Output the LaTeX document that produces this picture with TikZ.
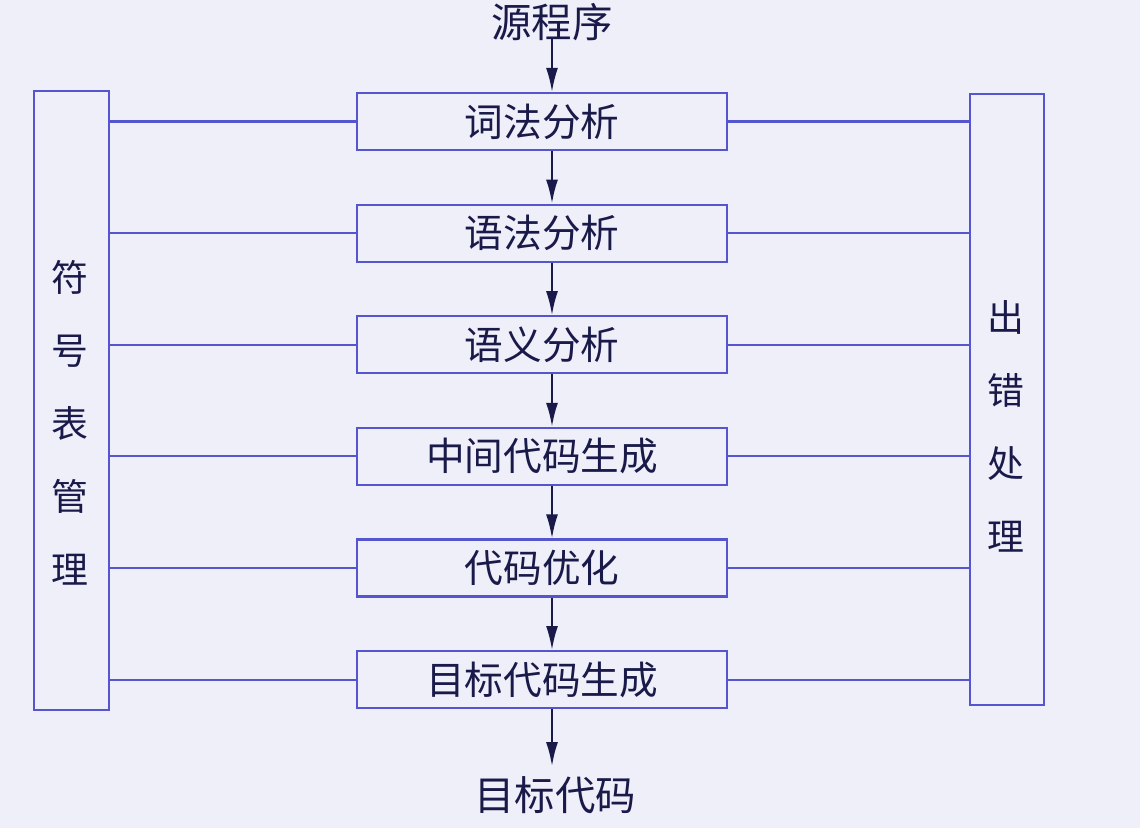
\documentclass[tikz,border=0pt]{standalone}
\usepackage{fontspec}
\newfontfamily\cjk{Noto Sans CJK SC}
\usepackage{tikz}
\usetikzlibrary{arrows.meta,calc,positioning}
\definecolor{bgcol}{HTML}{EFEFF9}
\definecolor{linecol}{HTML}{5555D0}
\definecolor{inkcol}{HTML}{1A1A4A}
\tikzset{%
	phase/.style  = {draw=linecol, line width=1.2pt, rectangle, minimum width=7.4cm, minimum height=1.14cm, text centered, text=inkcol, font=\cjk\fontsize{22}{25}\selectfont},
	sidebox/.style= {draw=linecol, line width=1.2pt, rectangle, minimum width=1.5cm},
	sidetext/.style={align=center, text=inkcol, font=\cjk\fontsize{21}{41.5}\selectfont},
	endtext/.style= {text=inkcol, font=\cjk\fontsize{23}{26}\selectfont},
	flow/.style   = {draw=inkcol, line width=1.2pt, -{Latex[length=4.8mm,width=2.4mm]}},
	link/.style   = {draw=linecol, line width=1.2pt},
}
\begin{document}
\begin{tikzpicture}
		\fill[bgcol] (0,0) rectangle (22.8,-16.56);
		\useasboundingbox (0,0) rectangle (22.8,-16.56);
		\node[endtext] (src) at (11.04,-0.44) {源程序};
		\node[phase] (lex) at (10.84,-2.43) {词法分析};
		\node[phase, below=1.05cm of lex] (syn) {语法分析};
		\node[phase, below=1.05cm of syn] (sem) {语义分析};
		\node[phase, below=1.05cm of sem] (mid) {中间代码生成};
		\node[phase, below=1.05cm of mid] (opt) {代码优化};
		\node[phase, below=1.05cm of opt] (gen) {目标代码生成};
		\node[endtext] (tgt) at (11.1,-15.9) {目标代码};
		\node[sidebox, minimum height=12.38cm] (sym) at (1.43,-8.01) {};
		\node[sidebox, minimum width=1.48cm, minimum height=12.22cm] (err) at (20.14,-7.99) {};
		\node[sidetext] at (1.4,-8.45) {符\\号\\表\\管\\理};
		\node[sidetext] at (20.12,-8.53) {出\\错\\处\\理};
		% arrows run a little right of the box centres
		\coordinate (spine) at (11.04,-0.78);
		\draw[flow] (spine) -- (spine |- lex.north);
		\draw[flow] (spine |- lex.south) -- (spine |- syn.north);
		\draw[flow] (spine |- syn.south) -- (spine |- sem.north);
		\draw[flow] (spine |- sem.south) -- (spine |- mid.north);
		\draw[flow] (spine |- mid.south) -- (spine |- opt.north);
		\draw[flow] (spine |- opt.south) -- (spine |- gen.north);
		\draw[flow] (spine |- gen.south) -- ($(spine |- gen.south)+(0,-1.14)$);
		\foreach \p in {lex,syn,sem,mid,opt,gen} {
			\draw[link] (\p.west) -- (\p.west -| sym.east);
			\draw[link] (\p.east) -- (\p.east -| err.west);
		}
		\end{tikzpicture}
\end{document}
